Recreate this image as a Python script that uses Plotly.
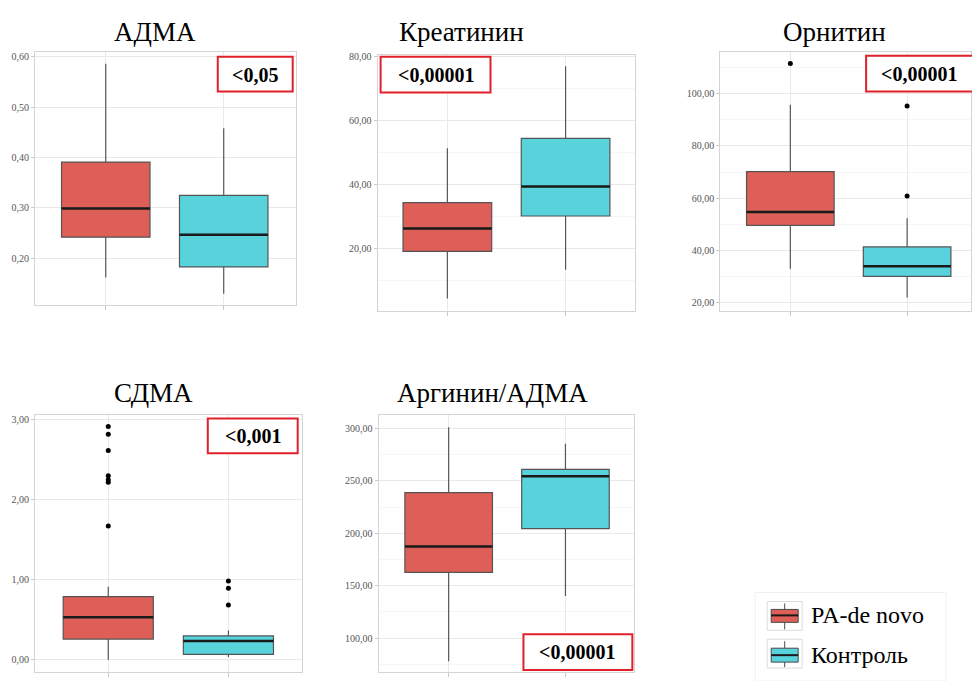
import plotly.graph_objects as go

# ---------------- data ----------------
metrics = ["АДМА", "Креатинин", "Орнитин", "СДМА", "Аргинин/АДМА"]
groups = ["PA-de novo", "Контроль"]
p_labels = ["<0,05", "<0,00001", "<0,00001", "<0,001", "<0,00001"]

pa_lower = [0.162, 4.3, 33.0, 0.00, 78.1]
pa_q1 = [0.242, 19.0, 49.6, 0.258, 162.8]
pa_median = [0.299, 26.2, 54.7, 0.532, 187.5]
pa_q3 = [0.391, 34.3, 70.2, 0.789, 238.8]
pa_upper = [0.586, 51.3, 95.8, 0.914, 301.3]
pa_outliers = [[], [], [111.6], [2.917, 2.82, 2.618, 2.30, 2.25, 2.22, 1.673], []]

ct_lower = [0.130, 13.3, 21.9, 0.033, 140.3]
ct_q1 = [0.183, 30.1, 30.0, 0.066, 204.6]
ct_median = [0.247, 39.3, 33.9, 0.233, 254.4]
ct_q3 = [0.325, 54.4, 41.3, 0.299, 261.0]
ct_upper = [0.458, 77.0, 52.3, 0.366, 285.4]
ct_outliers = [[], [], [95.3, 60.8], [0.985, 0.893, 0.686], []]

# ---------------- styles / layout ----------------
W, H = 972, 681
RED = "#DE5F57"
TEAL = "#58D3DC"
colors = [RED, TEAL]
BOX_W = 0.75
SERIF = "Liberation Serif"


def px(x):
    return x / W


def py(y):
    return 1 - y / H


# plot area boxes in pixels: (left, right, top, bottom)
areas = [(35, 296, 48, 303), (378, 636, 51, 309), (721, 972, 48, 309),
         (35, 302, 413, 672), (379, 635, 413, 672)]
xranges = [[-0.6, 1.61], [-0.59, 1.59], [-0.6, 1.547], [-0.61, 1.61], [-0.6, 1.59]]
yranges = [[0.107, 0.61], [0.3, 80.6], [16.7, 116.1], [-0.154, 3.066], [67.7, 313.3]]
dticks = [0.1, 20, 20, 1, 50]
minor_grid = [False, True, True, False, True]
title_pos = [(155, 28), (462, 28), (835, 28), (154, 391), (493, 391)]
pbox = [(218, 293, 53, 88), (381, 491, 53, 89), (867, 990, 52, 88),
        (208, 298, 417, 452), (524, 633, 634, 670)]
ptext = [(255, 71), (436, 71), (920, 70), (253, 435), (578, 652)]

fig = go.Figure()
layout = dict(width=W, height=H, margin=dict(l=0, r=0, t=0, b=0),
              paper_bgcolor="white", plot_bgcolor="white",
              showlegend=False, separators=", ")
shapes = []
annotations = []

stats = [
    (pa_lower, pa_q1, pa_median, pa_q3, pa_upper, pa_outliers),
    (ct_lower, ct_q1, ct_median, ct_q3, ct_upper, ct_outliers),
]

for k, m in enumerate(metrics):
    sfx = "" if k == 0 else str(k + 1)
    xa, ya = "x" + sfx, "y" + sfx
    for g, (lo, q1, med, q3, up, outs) in enumerate(stats):
        fig.add_trace(go.Box(
            x=[g], q1=[q1[k]], median=[med[k]], q3=[q3[k]],
            lowerfence=[lo[k]], upperfence=[up[k]],
            name=groups[g], fillcolor=colors[g],
            line=dict(color="#555555", width=1.2),
            width=BOX_W, whiskerwidth=0, boxpoints=False,
            xaxis=xa, yaxis=ya, showlegend=False, hoverinfo="y"))
        # thicker median line
        fig.add_trace(go.Scatter(
            x=[g - BOX_W / 2, g + BOX_W / 2], y=[med[k], med[k]],
            mode="lines", line=dict(color="#1a1a1a", width=2.5),
            xaxis=xa, yaxis=ya, showlegend=False, hoverinfo="skip"))
        if outs[k]:
            fig.add_trace(go.Scatter(
                x=[g] * len(outs[k]), y=outs[k], mode="markers",
                marker=dict(color="black", size=5),
                xaxis=xa, yaxis=ya, showlegend=False))

    l, r, t, b = areas[k]
    layout["xaxis" + sfx] = dict(
        domain=[px(l), px(r)], range=xranges[k], anchor=ya,
        tickvals=[0, 1], showticklabels=False, ticks="outside", ticklen=4,
        tickcolor="#c8c8c8", showgrid=True, gridcolor="#e9e9e9",
        showline=True, mirror=True, linecolor="#d4d4d4", linewidth=1,
        zeroline=False, fixedrange=True)
    layout["yaxis" + sfx] = dict(
        domain=[py(b), py(t)], range=yranges[k], anchor=xa,
        dtick=dticks[k], tick0=0, tickformat=".2f",
        ticks="outside", ticklen=3, tickcolor="#c8c8c8",
        tickfont=dict(family=SERIF, size=10, color="#555"),
        showgrid=True, gridcolor="#e9e9e9",
        minor=dict(dtick=dticks[k] / 2, showgrid=minor_grid[k], gridcolor="#f6f6f6"),
        showline=True, mirror=True, linecolor="#d4d4d4", linewidth=1,
        zeroline=False, fixedrange=True)

    tx, ty = title_pos[k]
    annotations.append(dict(text=m, x=px(tx), y=py(ty), xref="paper", yref="paper",
                            xanchor="center", yanchor="middle", showarrow=False,
                            font=dict(family=SERIF, size=27, color="black")))
    x0, x1, y0, y1 = pbox[k]
    shapes.append(dict(type="rect", xref="paper", yref="paper",
                       x0=px(x0), x1=px(x1), y0=py(y1), y1=py(y0),
                       line=dict(color="#E0202B", width=2), fillcolor="white"))
    ptx, pty = ptext[k]
    annotations.append(dict(text="<b>" + p_labels[k] + "</b>", x=px(ptx), y=py(pty),
                            xref="paper", yref="paper", xanchor="center",
                            yanchor="middle", showarrow=False,
                            font=dict(family=SERIF, size=20, color="black")))

# custom legend (bottom right)
shapes.append(dict(type="rect", xref="paper", yref="paper",
                   x0=px(756), x1=px(947), y0=py(681), y1=py(592),
                   line=dict(color="#f0f0f0", width=1), fillcolor="white", layer="below"))
leg_rows = [(603, 630, 609, 622, 615), (641, 668, 648, 662, 655)]
for g, (oy0, oy1, by0, by1, my) in enumerate(leg_rows):
    shapes.append(dict(type="rect", xref="paper", yref="paper",
                       x0=px(768), x1=px(803), y0=py(oy1), y1=py(oy0 - 2),
                       line=dict(color="#dcdcdc", width=1), fillcolor="white"))
    shapes.append(dict(type="line", xref="paper", yref="paper",
                       x0=px(785.5), x1=px(785.5), y0=py(oy1 - 1), y1=py(oy0),
                       line=dict(color="#4a4a4a", width=1)))
    shapes.append(dict(type="rect", xref="paper", yref="paper",
                       x0=px(772), x1=px(799), y0=py(by1), y1=py(by0),
                       line=dict(color="#4a4a4a", width=1), fillcolor=colors[g]))
    shapes.append(dict(type="line", xref="paper", yref="paper",
                       x0=px(772), x1=px(799), y0=py(my), y1=py(my),
                       line=dict(color="#1a1a1a", width=2)))
    annotations.append(dict(text=groups[g], x=px(810), y=py(my), xref="paper", yref="paper",
                            xanchor="left", yanchor="middle", showarrow=False,
                            font=dict(family=SERIF, size=24, color="black")))

layout["shapes"] = shapes
layout["annotations"] = annotations
fig.update_layout(**layout)
fig.write_html(
    "out.html",
    config={"displayModeBar": False},
    post_script="document.body.style.margin='0';document.body.style.padding='0';"
                "document.body.style.overflow='hidden';",
)
